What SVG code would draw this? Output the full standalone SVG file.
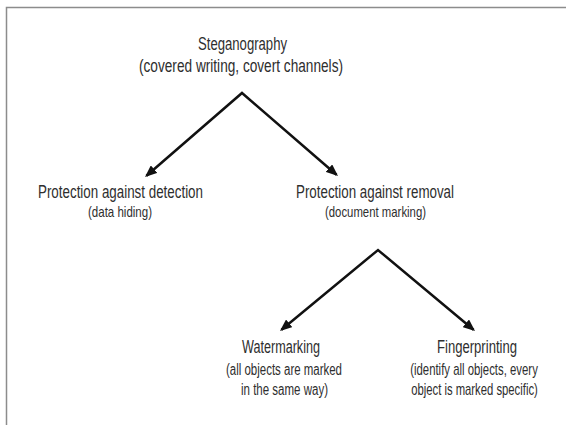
<svg xmlns="http://www.w3.org/2000/svg" width="566" height="425" viewBox="0 0 566 425">
<style>
  text { font-family: "Liberation Sans", Arial, sans-serif; fill: #2e2e2e; text-anchor: middle; }
  .t { font-size: 17.5px; }
  .s { font-size: 15px; }
  .m { font-size: 16px; }
  .conn { fill: none; stroke: #111; stroke-width: 2.5; stroke-linejoin: miter; }
  .frame { fill: none; stroke: #8c8c8c; stroke-width: 1.5; }
</style>
<defs>
  <marker id="ah" viewBox="0 0 12 10" refX="10" refY="5" markerWidth="12" markerHeight="10" markerUnits="userSpaceOnUse" orient="auto-start-reverse">
    <path d="M0,0 L12,5 L0,10 z" fill="#111"/>
  </marker>
</defs>
<rect width="566" height="425" fill="#fff"/>
<path class="frame" d="M566,7.5 H6.5 V425"/>
<g id="connectors">
  <path class="conn" d="M146.5,175.7 L242,93 L336.5,174.7" marker-start="url(#ah)" marker-end="url(#ah)"/>
  <path class="conn" d="M281.5,329.7 L378,250 L473.5,329.7" marker-start="url(#ah)" marker-end="url(#ah)"/>
</g>
<g id="steganography">
  <text class="t" x="242.5" y="50" textLength="89" lengthAdjust="spacingAndGlyphs">Steganography</text>
  <text class="t" x="241" y="72" textLength="204" lengthAdjust="spacingAndGlyphs">(covered writing, covert channels)</text>
</g>
<g id="detection">
  <text class="t" x="120.5" y="198" textLength="165" lengthAdjust="spacingAndGlyphs">Protection against detection</text>
  <text class="s" x="120" y="217" textLength="64" lengthAdjust="spacingAndGlyphs">(data hiding)</text>
</g>
<g id="removal">
  <text class="t" x="375" y="198" textLength="158" lengthAdjust="spacingAndGlyphs">Protection against removal</text>
  <text class="s" x="375.5" y="217" textLength="101" lengthAdjust="spacingAndGlyphs">(document marking)</text>
</g>
<g id="watermarking">
  <text class="t" x="281" y="353" textLength="78" lengthAdjust="spacingAndGlyphs">Watermarking</text>
  <text class="m" x="284" y="375" textLength="116" lengthAdjust="spacingAndGlyphs">(all objects are marked</text>
  <text class="m" x="284.5" y="395" textLength="87" lengthAdjust="spacingAndGlyphs">in the same way)</text>
</g>
<g id="fingerprinting">
  <text class="t" x="477" y="353" textLength="80" lengthAdjust="spacingAndGlyphs">Fingerprinting</text>
  <text class="m" transform="translate(474,375) scale(0.711,1)">(identify all objects, every</text>
  <text class="m" transform="translate(474.5,395) scale(0.706,1)">object is marked specific)</text>
</g>
</svg>
